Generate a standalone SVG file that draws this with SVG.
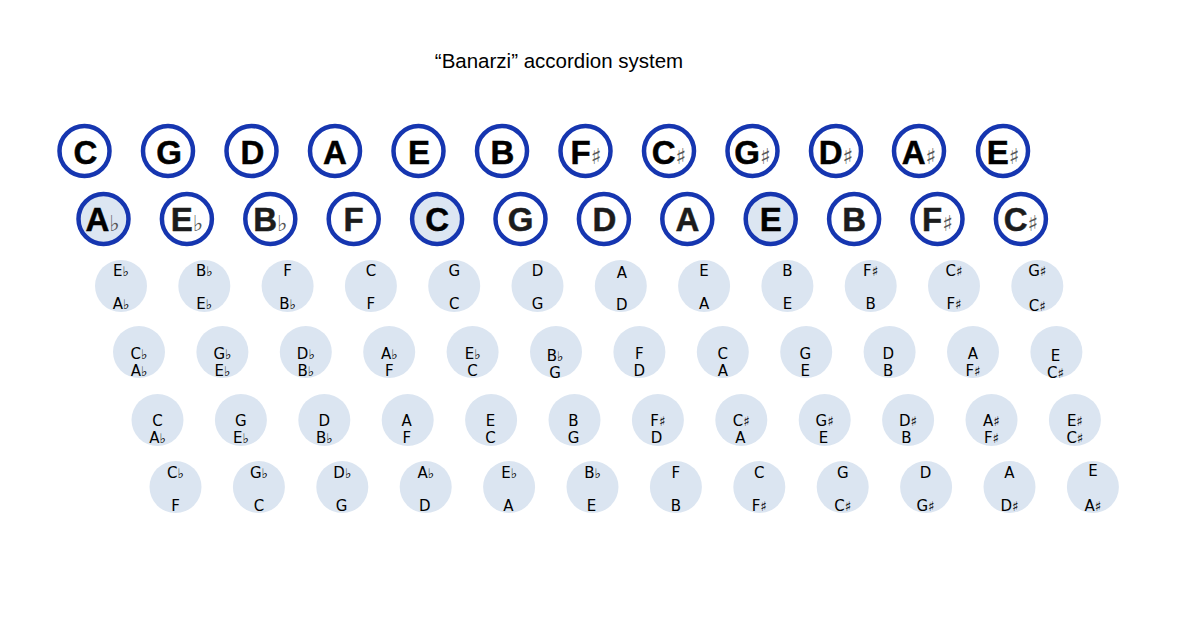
<svg xmlns="http://www.w3.org/2000/svg" width="1183" height="630" viewBox="0 0 1183 630">
<style>
.bg{fill:#fff}
.title{font-family:"Liberation Sans",Arial,sans-serif;font-size:20.5px;fill:#000;text-anchor:middle}
.bc{fill:#fff;stroke:#1636b0;stroke-width:4.5}
.bh{fill:#dce6f2;stroke:#1636b0;stroke-width:4.5}
.bt{font-family:"Liberation Sans",Arial,sans-serif;font-weight:bold;font-size:33px;fill:#000;stroke:#000;stroke-width:0.5;text-anchor:middle}
.bt2{fill:#1c1c1c;stroke:#1c1c1c}
.ba{font-family:"DejaVu Sans",sans-serif;font-weight:normal;font-size:22px;fill:#555;stroke:none}
.sc{fill:#dbe5f1}
.st{font-family:"DejaVu Sans",sans-serif;font-size:15px;fill:#000;text-anchor:middle}
.sa{font-size:13.5px}
</style>
<rect class="bg" x="0" y="0" width="1183" height="630"/>
<text class="title" x="559" y="68">“Banarzi” accordion system</text>

<g id="row1">
<g id="r1-C"><circle class="bc" cx="84.5" cy="151" r="25"/><text class="bt" x="85.5" y="163.5">C</text></g>
<g id="r1-G"><circle class="bc" cx="168" cy="151" r="25"/><text class="bt" x="169" y="163.5">G</text></g>
<g id="r1-D"><circle class="bc" cx="251.5" cy="151" r="25"/><text class="bt" x="252.5" y="163.5">D</text></g>
<g id="r1-A"><circle class="bc" cx="335" cy="151" r="25"/><text class="bt" x="335" y="163.5">A</text></g>
<g id="r1-E"><circle class="bc" cx="418.5" cy="151" r="25"/><text class="bt" x="419" y="163.5">E</text></g>
<g id="r1-B"><circle class="bc" cx="502" cy="151" r="25"/><text class="bt" x="502.5" y="163.5">B</text></g>
<g id="r1-Fs"><circle class="bc" cx="585.5" cy="151" r="25"/><text class="bt" x="586" y="163.5">F<tspan class="ba">♯</tspan></text></g>
<g id="r1-Cs"><circle class="bc" cx="669" cy="151" r="25"/><text class="bt" x="669" y="163.5">C<tspan class="ba">♯</tspan></text></g>
<g id="r1-Gs"><circle class="bc" cx="752.5" cy="151" r="25"/><text class="bt" x="752.5" y="163.5">G<tspan class="ba">♯</tspan></text></g>
<g id="r1-Ds"><circle class="bc" cx="836" cy="151" r="25"/><text class="bt" x="836" y="163.5">D<tspan class="ba">♯</tspan></text></g>
<g id="r1-As"><circle class="bc" cx="919" cy="151" r="25"/><text class="bt" x="919" y="163.5">A<tspan class="ba">♯</tspan></text></g>
<g id="r1-Es"><circle class="bc" cx="1003" cy="151" r="25"/><text class="bt" x="1003" y="163.5">E<tspan class="ba">♯</tspan></text></g>
</g>

<g id="row2">
<g id="r2-Ab"><circle class="bh" cx="103.5" cy="219" r="25"/><text class="bt" x="102.5" y="230.5">A<tspan class="ba">♭</tspan></text></g>
<g id="r2-Eb"><circle class="bc" cx="186.9" cy="219" r="25"/><text class="bt bt2" x="186.9" y="230.5">E<tspan class="ba">♭</tspan></text></g>
<g id="r2-Bb"><circle class="bc" cx="270.3" cy="219" r="25"/><text class="bt bt2" x="270.3" y="230.5">B<tspan class="ba">♭</tspan></text></g>
<g id="r2-F"><circle class="bc" cx="353.7" cy="219" r="25"/><text class="bt bt2" x="353.7" y="230.5">F</text></g>
<g id="r2-C"><circle class="bh" cx="437.1" cy="219" r="25"/><text class="bt" x="437.1" y="230.5">C</text></g>
<g id="r2-G"><circle class="bc" cx="520.5" cy="219" r="25"/><text class="bt bt2" x="520.5" y="230.5">G</text></g>
<g id="r2-D"><circle class="bc" cx="603.9" cy="219" r="25"/><text class="bt bt2" x="604.4" y="230.5">D</text></g>
<g id="r2-A"><circle class="bc" cx="687.3" cy="219" r="25"/><text class="bt bt2" x="687.3" y="230.5">A</text></g>
<g id="r2-E"><circle class="bh" cx="770.7" cy="219" r="25"/><text class="bt" x="770.7" y="230.5">E</text></g>
<g id="r2-B"><circle class="bc" cx="854.1" cy="219" r="25"/><text class="bt bt2" x="854.1" y="230.5">B</text></g>
<g id="r2-Fs"><circle class="bc" cx="937.5" cy="219" r="25"/><text class="bt bt2" x="937.5" y="230.5">F<tspan class="ba">♯</tspan></text></g>
<g id="r2-Cs"><circle class="bc" cx="1020.9" cy="219" r="25"/><text class="bt bt2" x="1020.9" y="230.5">C<tspan class="ba">♯</tspan></text></g>
</g>

<g id="row3">
<g id="r3-1"><circle class="sc" cx="121" cy="286" r="26"/><text class="st" x="121" y="276">E<tspan class="sa">♭</tspan></text><text class="st" x="121" y="309">A<tspan class="sa">♭</tspan></text></g>
<g id="r3-2"><circle class="sc" cx="204.3" cy="286" r="26"/><text class="st" x="204.3" y="276">B<tspan class="sa">♭</tspan></text><text class="st" x="204.3" y="309">E<tspan class="sa">♭</tspan></text></g>
<g id="r3-3"><circle class="sc" cx="287.6" cy="286" r="26"/><text class="st" x="287.6" y="276">F</text><text class="st" x="287.6" y="309">B<tspan class="sa">♭</tspan></text></g>
<g id="r3-4"><circle class="sc" cx="370.9" cy="286" r="26"/><text class="st" x="370.9" y="276">C</text><text class="st" x="370.9" y="309">F</text></g>
<g id="r3-5"><circle class="sc" cx="454.2" cy="286" r="26"/><text class="st" x="454.2" y="276">G</text><text class="st" x="454.2" y="309">C</text></g>
<g id="r3-6"><circle class="sc" cx="537.5" cy="286" r="26"/><text class="st" x="537.5" y="276">D</text><text class="st" x="537.5" y="309">G</text></g>
<g id="r3-7"><circle class="sc" cx="620.8" cy="286" r="26"/><text class="st" x="621.8" y="278">A</text><text class="st" x="621.8" y="310">D</text></g>
<g id="r3-8"><circle class="sc" cx="704.1" cy="286" r="26"/><text class="st" x="704.1" y="276">E</text><text class="st" x="704.1" y="309">A</text></g>
<g id="r3-9"><circle class="sc" cx="787.4" cy="286" r="26"/><text class="st" x="787.4" y="276">B</text><text class="st" x="787.4" y="309">E</text></g>
<g id="r3-10"><circle class="sc" cx="870.7" cy="286" r="26"/><text class="st" x="870.7" y="276">F<tspan class="sa">♯</tspan></text><text class="st" x="870.7" y="309">B</text></g>
<g id="r3-11"><circle class="sc" cx="954" cy="286" r="26"/><text class="st" x="954" y="276">C<tspan class="sa">♯</tspan></text><text class="st" x="954" y="309">F<tspan class="sa">♯</tspan></text></g>
<g id="r3-12"><circle class="sc" cx="1037.3" cy="286" r="26"/><text class="st" x="1037.3" y="276">G<tspan class="sa">♯</tspan></text><text class="st" x="1037.3" y="311">C<tspan class="sa">♯</tspan></text></g>
</g>

<g id="row4">
<g id="r4-1"><circle class="sc" cx="139" cy="352" r="26"/><text class="st" x="139" y="359">C<tspan class="sa">♭</tspan></text><text class="st" x="139" y="376">A<tspan class="sa">♭</tspan></text></g>
<g id="r4-2"><circle class="sc" cx="222.4" cy="352" r="26"/><text class="st" x="222.4" y="359">G<tspan class="sa">♭</tspan></text><text class="st" x="222.4" y="376">E<tspan class="sa">♭</tspan></text></g>
<g id="r4-3"><circle class="sc" cx="305.8" cy="352" r="26"/><text class="st" x="305.8" y="359">D<tspan class="sa">♭</tspan></text><text class="st" x="305.8" y="376">B<tspan class="sa">♭</tspan></text></g>
<g id="r4-4"><circle class="sc" cx="389.2" cy="352" r="26"/><text class="st" x="389.2" y="359">A<tspan class="sa">♭</tspan></text><text class="st" x="389.2" y="376">F</text></g>
<g id="r4-5"><circle class="sc" cx="472.6" cy="352" r="26"/><text class="st" x="472.6" y="359">E<tspan class="sa">♭</tspan></text><text class="st" x="472.6" y="376">C</text></g>
<g id="r4-6"><circle class="sc" cx="556" cy="352" r="26"/><text class="st" x="555" y="360.5">B<tspan class="sa">♭</tspan></text><text class="st" x="555" y="377.5">G</text></g>
<g id="r4-7"><circle class="sc" cx="639.4" cy="352" r="26"/><text class="st" x="639.4" y="358.5">F</text><text class="st" x="639.4" y="375.5">D</text></g>
<g id="r4-8"><circle class="sc" cx="722.8" cy="352" r="26"/><text class="st" x="722.8" y="358.5">C</text><text class="st" x="722.8" y="375.5">A</text></g>
<g id="r4-9"><circle class="sc" cx="806.2" cy="352" r="26"/><text class="st" x="805.2" y="358.5">G</text><text class="st" x="805.2" y="375.5">E</text></g>
<g id="r4-10"><circle class="sc" cx="889.6" cy="352" r="26"/><text class="st" x="888.2" y="358.5">D</text><text class="st" x="888.2" y="375.5">B</text></g>
<g id="r4-11"><circle class="sc" cx="973" cy="352" r="26"/><text class="st" x="973" y="358.5">A</text><text class="st" x="973" y="375.5">F<tspan class="sa">♯</tspan></text></g>
<g id="r4-12"><circle class="sc" cx="1056.4" cy="352" r="26"/><text class="st" x="1055.5" y="360.5">E</text><text class="st" x="1055.5" y="377.5">C<tspan class="sa">♯</tspan></text></g>
</g>

<g id="row5">
<g id="r5-1"><circle class="sc" cx="157.5" cy="420" r="26"/><text class="st" x="157.5" y="426">C</text><text class="st" x="157.5" y="443">A<tspan class="sa">♭</tspan></text></g>
<g id="r5-2"><circle class="sc" cx="240.9" cy="420" r="26"/><text class="st" x="240.9" y="426">G</text><text class="st" x="240.9" y="443">E<tspan class="sa">♭</tspan></text></g>
<g id="r5-3"><circle class="sc" cx="324.3" cy="420" r="26"/><text class="st" x="324.3" y="426">D</text><text class="st" x="324.3" y="443">B<tspan class="sa">♭</tspan></text></g>
<g id="r5-4"><circle class="sc" cx="407.7" cy="420" r="26"/><text class="st" x="406.7" y="426">A</text><text class="st" x="406.7" y="443">F</text></g>
<g id="r5-5"><circle class="sc" cx="491.1" cy="420" r="26"/><text class="st" x="490.5" y="426">E</text><text class="st" x="490.5" y="443">C</text></g>
<g id="r5-6"><circle class="sc" cx="574.5" cy="420" r="26"/><text class="st" x="573.5" y="426">B</text><text class="st" x="573.5" y="443">G</text></g>
<g id="r5-7"><circle class="sc" cx="657.9" cy="420" r="26"/><text class="st" x="657.9" y="426">F<tspan class="sa">♯</tspan></text><text class="st" x="656.5" y="443">D</text></g>
<g id="r5-8"><circle class="sc" cx="741.3" cy="420" r="26"/><text class="st" x="741.3" y="426">C<tspan class="sa">♯</tspan></text><text class="st" x="740.5" y="443">A</text></g>
<g id="r5-9"><circle class="sc" cx="824.7" cy="420" r="26"/><text class="st" x="824.7" y="426">G<tspan class="sa">♯</tspan></text><text class="st" x="823.5" y="443">E</text></g>
<g id="r5-10"><circle class="sc" cx="908.1" cy="420" r="26"/><text class="st" x="908.1" y="426">D<tspan class="sa">♯</tspan></text><text class="st" x="906.5" y="443">B</text></g>
<g id="r5-11"><circle class="sc" cx="991.5" cy="420" r="26"/><text class="st" x="991.5" y="426">A<tspan class="sa">♯</tspan></text><text class="st" x="991.5" y="443">F<tspan class="sa">♯</tspan></text></g>
<g id="r5-12"><circle class="sc" cx="1074.9" cy="420" r="26"/><text class="st" x="1074.9" y="426">E<tspan class="sa">♯</tspan></text><text class="st" x="1074.9" y="443">C<tspan class="sa">♯</tspan></text></g>
</g>

<g id="row6">
<g id="r6-1"><circle class="sc" cx="175.5" cy="487" r="26"/><text class="st" x="175.5" y="478">C<tspan class="sa">♭</tspan></text><text class="st" x="175.5" y="511">F</text></g>
<g id="r6-2"><circle class="sc" cx="258.9" cy="487" r="26"/><text class="st" x="258.9" y="478">G<tspan class="sa">♭</tspan></text><text class="st" x="258.9" y="511">C</text></g>
<g id="r6-3"><circle class="sc" cx="342.3" cy="487" r="26"/><text class="st" x="342.3" y="478">D<tspan class="sa">♭</tspan></text><text class="st" x="341.5" y="511">G</text></g>
<g id="r6-4"><circle class="sc" cx="425.7" cy="487" r="26"/><text class="st" x="425.7" y="478">A<tspan class="sa">♭</tspan></text><text class="st" x="424.7" y="511">D</text></g>
<g id="r6-5"><circle class="sc" cx="509.1" cy="487" r="26"/><text class="st" x="509.1" y="478">E<tspan class="sa">♭</tspan></text><text class="st" x="508.5" y="511">A</text></g>
<g id="r6-6"><circle class="sc" cx="592.5" cy="487" r="26"/><text class="st" x="592.5" y="478">B<tspan class="sa">♭</tspan></text><text class="st" x="591.5" y="511">E</text></g>
<g id="r6-7"><circle class="sc" cx="675.9" cy="487" r="26"/><text class="st" x="675.9" y="478">F</text><text class="st" x="675.9" y="511">B</text></g>
<g id="r6-8"><circle class="sc" cx="759.3" cy="487" r="26"/><text class="st" x="759.3" y="478">C</text><text class="st" x="759.3" y="511">F<tspan class="sa">♯</tspan></text></g>
<g id="r6-9"><circle class="sc" cx="842.7" cy="487" r="26"/><text class="st" x="842.7" y="478">G</text><text class="st" x="842.7" y="511">C<tspan class="sa">♯</tspan></text></g>
<g id="r6-10"><circle class="sc" cx="926.1" cy="487" r="26"/><text class="st" x="925.5" y="478">D</text><text class="st" x="925.5" y="511">G<tspan class="sa">♯</tspan></text></g>
<g id="r6-11"><circle class="sc" cx="1009.5" cy="487" r="26"/><text class="st" x="1009.5" y="478">A</text><text class="st" x="1009.5" y="511">D<tspan class="sa">♯</tspan></text></g>
<g id="r6-12"><circle class="sc" cx="1092.9" cy="487" r="26"/><text class="st" x="1092.9" y="476">E</text><text class="st" x="1092.9" y="511">A<tspan class="sa">♯</tspan></text></g>
</g>

<g id="connectors"/>
</svg>
